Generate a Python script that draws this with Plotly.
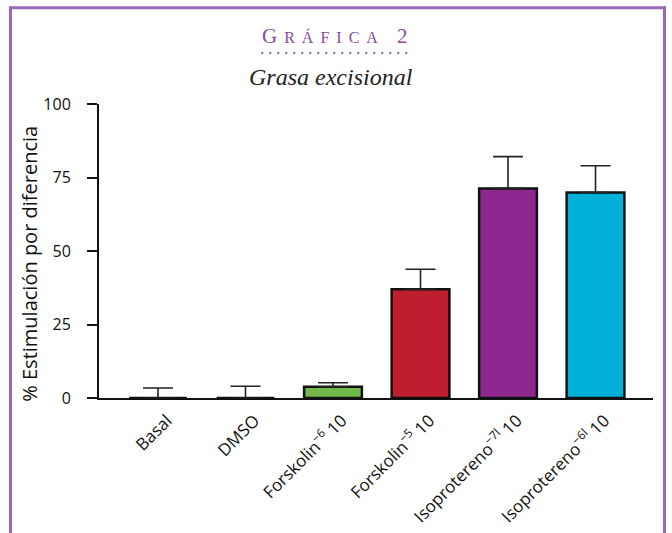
import plotly.graph_objects as go

categories = ["Basal", "DMSO", "Forskolin<sup>−6</sup> 10", "Forskolin<sup>−5</sup> 10",
              "Isoprotereno<sup>−7l</sup> 10", "Isoprotereno<sup>−6l</sup> 10"]
values = [0, 0, 3.8, 37.0, 71.3, 69.9]
errors = [3.4, 4.0, 1.4, 6.8, 10.8, 9.1]
colors = ["#ffffff", "#ffffff", "#72b84a", "#be1e2d", "#8e278f", "#00b0d8"]
yticks = [0, 25, 50, 75, 100]

W, H = 672, 533
ML, MR, MT, MB = 99, 19, 104, 134.5
pw = W - ML - MR
ph = H - MT - MB

def px(x):
    return (x - ML) / pw

def py(y):
    return (H - MB - y) / ph

xpos = list(range(len(categories)))

fig = go.Figure()
fig.add_trace(go.Bar(
    x=xpos, y=values, width=0.66,
    marker=dict(color=colors, line=dict(color="#111111", width=2.5)),
    error_y=dict(type="data", symmetric=False, array=errors,
                 arrayminus=[0] * len(errors), color="#222222",
                 thickness=1.6, width=15),
))

frame = "#9a68b4"
fig.update_layout(
    width=W, height=H,
    margin=dict(l=ML, r=MR, t=MT, b=MB, autoexpand=False),
    plot_bgcolor="white", paper_bgcolor="white",
    showlegend=False,
    font=dict(family="Open Sans", color="#111111"),
    xaxis=dict(
        range=[-0.674, 5.657], tickmode="array", tickvals=xpos, ticktext=categories,
        tickangle=-45, showline=True, linewidth=2, linecolor="#111111",
        showgrid=False, zeroline=False, ticks="", tickfont=dict(size=17),
        ticklabelstandoff=4, ticklabelshift=9, automargin=False,
    ),
    yaxis=dict(
        range=[0, 100], tickmode="array", tickvals=yticks,
        showline=True, linewidth=2, linecolor="#111111",
        ticks="outside", ticklen=10, tickwidth=2, tickcolor="#111111",
        showgrid=False, zeroline=False, tickfont=dict(size=16),
        ticklabelstandoff=13, automargin=False,
    ),
    shapes=[
        dict(type="line", xref="paper", yref="paper", x0=px(10.5), x1=px(10.5),
             y0=py(6), y1=py(540), line=dict(color=frame, width=3)),
        dict(type="line", xref="paper", yref="paper", x0=px(664.5), x1=px(664.5),
             y0=py(6), y1=py(540), line=dict(color=frame, width=3)),
        dict(type="line", xref="paper", yref="paper", x0=px(9), x1=px(666),
             y0=py(7.5), y1=py(7.5), line=dict(color=frame, width=3)),
        dict(type="line", xref="paper", yref="paper", x0=px(261), x1=px(412),
             y0=py(53), y1=py(53), line=dict(color="#a887c0", width=2.5, dash="2.5px,5.5px")),
    ],
    annotations=[
        dict(xref="paper", yref="paper", x=px(30), y=py(264), xanchor="center", yanchor="middle",
             showarrow=False, textangle=-90, text="% Estimulación por diferencia",
             font=dict(family="Open Sans", size=20, color="#111111")),
        dict(xref="paper", yref="paper", x=px(338), y=py(36), xanchor="center", yanchor="middle",
             showarrow=False,
             text="<span style='letter-spacing:7px'>G<span style='font-size:16px'>RÁFICA</span> 2</span>",
             font=dict(family="Liberation Serif", size=21, color="#8a4c9e")),
        dict(xref="paper", yref="paper", x=px(331), y=py(77), xanchor="center", yanchor="middle",
             showarrow=False, text="<i>Grasa excisional</i>",
             font=dict(family="Liberation Serif", size=24, color="#222222")),
    ],
)

fig.write_html("out.html", config={"displayModeBar": False},
               post_script="document.body.style.margin='0';")
